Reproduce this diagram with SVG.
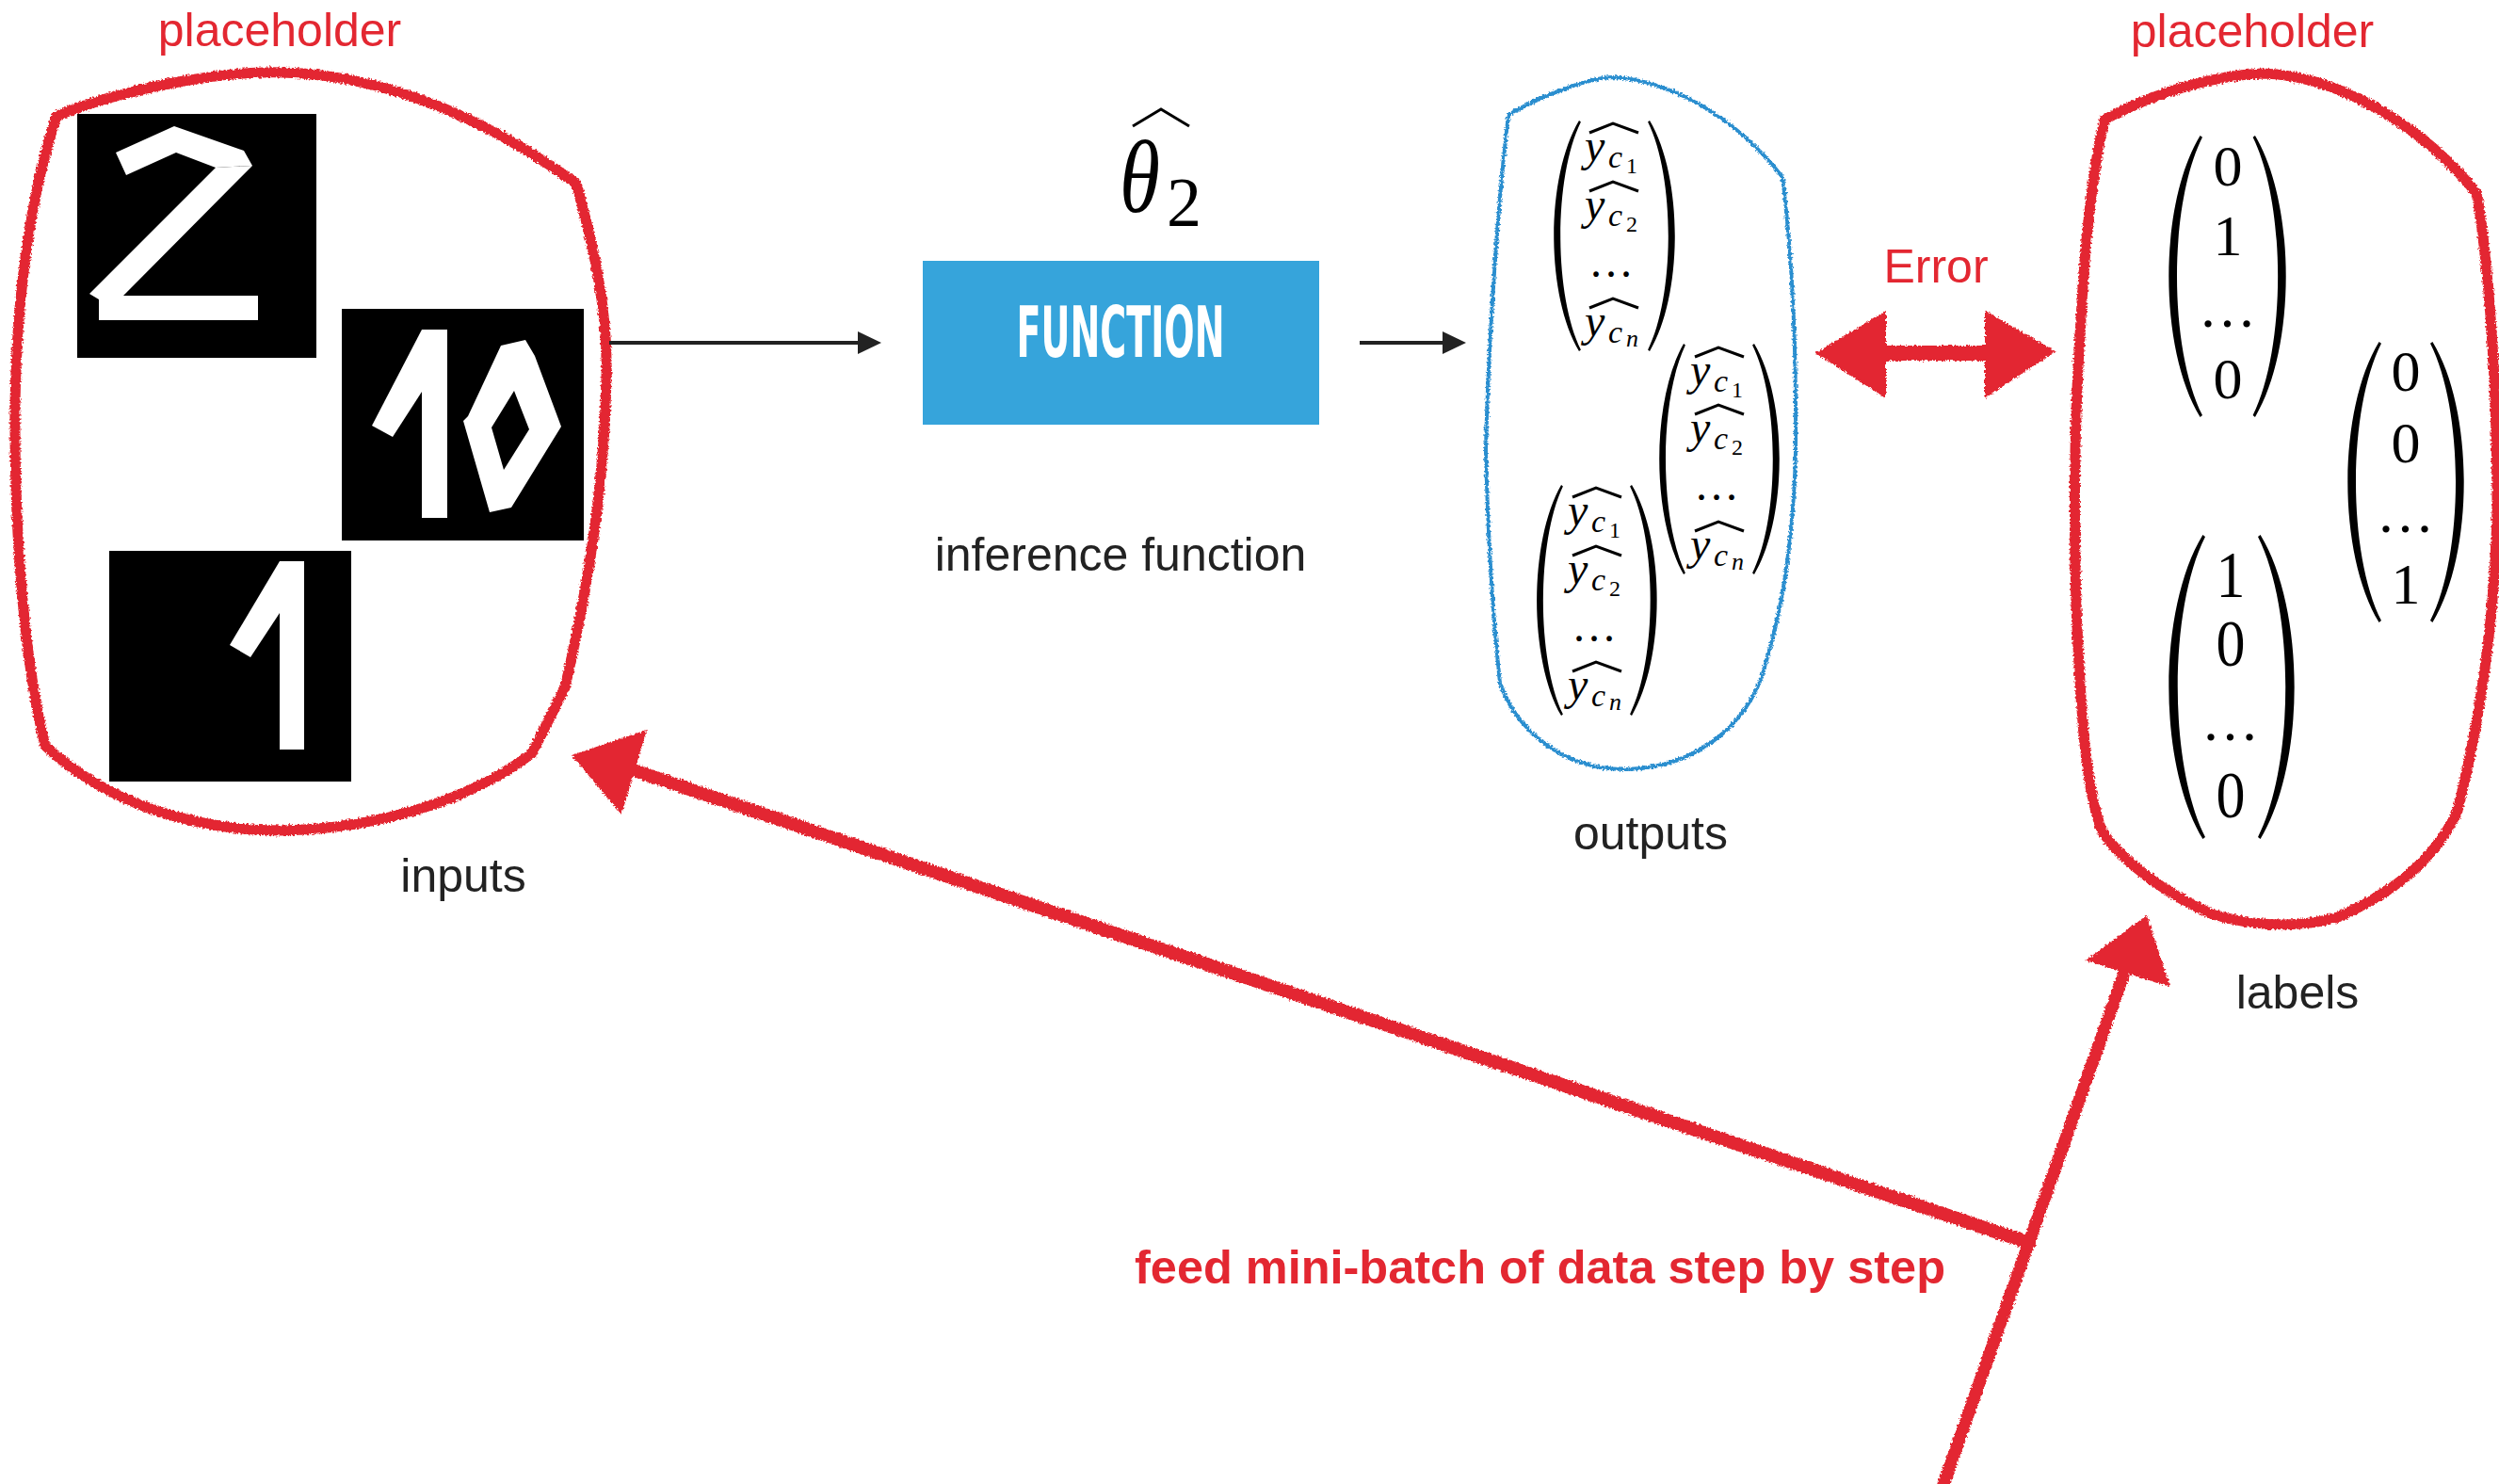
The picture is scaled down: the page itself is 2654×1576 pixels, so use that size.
<svg xmlns="http://www.w3.org/2000/svg" xmlns:xlink="http://www.w3.org/1999/xlink" width="2654" height="1576" viewBox="0 0 2654 1576">
  <defs>
    <style>
      .lbl { font-family: "Liberation Sans", Arial, sans-serif; font-size: 50px; fill: #222222; }
      .red { fill: #e32731; }
      .mi { font-family: "Liberation Serif", "DejaVu Serif", serif; font-style: italic; fill: #000; }
      .num { font-family: "Liberation Serif", "DejaVu Serif", serif; fill: #000; }
      .hat { fill: none; stroke: #000; stroke-width: 3; stroke-linejoin: miter; }
      .crayon { fill: none; stroke: #e32731; stroke-linecap: round; stroke-linejoin: round; }
      .digit { fill: #ffffff; }
    </style>
    <!-- rough crayon edge for the hand-drawn strokes -->
    <filter id="rough" filterUnits="userSpaceOnUse" x="0" y="0" width="2654" height="1576">
      <feTurbulence type="fractalNoise" baseFrequency="0.45" numOctaves="2" seed="7" result="noise"/>
      <feDisplacementMap in="SourceGraphic" in2="noise" scale="5" xChannelSelector="R" yChannelSelector="G"/>
    </filter>
    <!-- big left parenthesis, 28 wide and 245 tall -->
    <path id="paren" d="M28,0 C-9,60 -9,185 28,245 L30,243.5 C0,185 0,60 30,1.5 Z" fill="#000"/>
    <marker id="ah" markerUnits="userSpaceOnUse" markerWidth="26" markerHeight="26" refX="15" refY="12" orient="auto">
      <path d="M0,0 L25,12 L0,24 Z" fill="#222222"/>
    </marker>
  </defs>

  <rect width="2654" height="1576" fill="#ffffff"/>

  <!-- inputs placeholder -->
  <g id="inputs">
    <text class="lbl red" x="297" y="49" text-anchor="middle">placeholder</text>
    <rect x="82" y="121" width="254" height="259" fill="#000"/>
    <polygon class="digit" points="123,162 185,134 259,160 268,176 229,178 187,162 134,186"/>
    <polygon class="digit" points="268,176 229,178 95,312 105,318 105,340 274,340 274,314 131,314"/>
    <rect x="363" y="328" width="257" height="246" fill="#000"/>
    <rect class="digit" x="448" y="350" width="27" height="200"/>
    <polygon class="digit" points="448,350 395,452 417,464 448,416"/>
    <path class="digit" fill-rule="evenodd" d="M532,367 L558,361 L568,378 L596,453 L543,539 L520,544 L492,447 L497,442 Z M522,454 L546,415 L562,456 L535,499 Z"/>
    <rect x="116" y="585" width="257" height="245" fill="#000"/>
    <rect class="digit" x="297" y="596" width="26" height="200"/>
    <polygon class="digit" points="297,596 244,685 266,698 297,651"/>
    <path class="crayon" stroke-width="11" filter="url(#rough)" d="M60,123 C130,95 230,75 300,77 C420,80 530,135 612,195 C630,260 646,330 644,400 C642,500 630,600 600,730 L565,800 C500,850 400,880 300,882 C200,882 110,850 48,792 C25,700 15,560 16,430 C18,300 35,200 60,123 Z"/>
    <text class="lbl" x="492" y="947" text-anchor="middle">inputs</text>
  </g>

  <!-- inference function -->
  <g id="function">
    <path class="hat" stroke-width="4" d="M1203,134 L1233,116 L1263,134"/>
    <text class="mi" x="1189" y="225" font-size="110" textLength="43" lengthAdjust="spacingAndGlyphs">θ</text>
    <text class="num" x="1239" y="240" font-size="74">2</text>
    <rect x="980" y="277" width="421" height="174" fill="#36a4db"/>
    <text x="1190" y="379" text-anchor="middle" font-family="'Liberation Sans Narrow', 'DejaVu Sans Condensed', sans-serif" font-weight="bold" font-size="74" fill="#ffffff" textLength="221" lengthAdjust="spacingAndGlyphs">FUNCTION</text>
    <text class="lbl" x="1190" y="606" text-anchor="middle">inference function</text>
  </g>

  <!-- outputs -->
  <g id="outputs">
    <path fill="none" stroke="#2b8ecf" stroke-width="4" filter="url(#rough)" d="M1602,122 C1640,100 1690,82 1713,82 C1770,85 1840,120 1893,188 C1902,260 1908,360 1907,480 C1905,560 1895,640 1877,697 C1865,760 1810,815 1727,817 C1660,818 1610,775 1593,725 C1585,650 1580,560 1578,480 C1580,380 1590,220 1602,122 Z"/>

    <!-- vector 1 -->
    <use xlink:href="#paren" transform="translate(1650,128) scale(0.964,1)"/>
    <use xlink:href="#paren" transform="translate(1779,128) scale(-0.964,1)"/>
    <g transform="translate(1683,171)">
      <path class="hat" d="M5,-30 L30,-40 L57,-30"/>
      <text class="mi" x="0" y="0" font-size="48">y</text>
      <text class="mi" x="25" y="7" font-size="34">c</text>
      <text class="num" x="44" y="13" font-size="24">1</text>
    </g>
    <g transform="translate(1683,233)">
      <path class="hat" d="M5,-30 L30,-40 L57,-30"/>
      <text class="mi" x="0" y="0" font-size="48">y</text>
      <text class="mi" x="25" y="7" font-size="34">c</text>
      <text class="num" x="44" y="13" font-size="24">2</text>
    </g>
    <text class="num" x="1713" y="294" font-size="48" text-anchor="middle" letter-spacing="4">...</text>
    <g transform="translate(1683,357)">
      <path class="hat" d="M5,-30 L30,-40 L57,-30"/>
      <text class="mi" x="0" y="0" font-size="48">y</text>
      <text class="mi" x="25" y="7" font-size="34">c</text>
      <text class="mi" x="44" y="11" font-size="26">n</text>
    </g>

    <!-- vector 2 -->
    <use xlink:href="#paren" transform="translate(1762,365) scale(0.93,1)"/>
    <use xlink:href="#paren" transform="translate(1890,365) scale(-0.964,1)"/>
    <g transform="translate(1795,409)">
      <path class="hat" d="M5,-30 L30,-40 L57,-30"/>
      <text class="mi" x="0" y="0" font-size="48">y</text>
      <text class="mi" x="25" y="7" font-size="34">c</text>
      <text class="num" x="44" y="13" font-size="24">1</text>
    </g>
    <g transform="translate(1795,470)">
      <path class="hat" d="M5,-30 L30,-40 L57,-30"/>
      <text class="mi" x="0" y="0" font-size="48">y</text>
      <text class="mi" x="25" y="7" font-size="34">c</text>
      <text class="num" x="44" y="13" font-size="24">2</text>
    </g>
    <text class="num" x="1825" y="531" font-size="48" text-anchor="middle" letter-spacing="4">...</text>
    <g transform="translate(1795,594)">
      <path class="hat" d="M5,-30 L30,-40 L57,-30"/>
      <text class="mi" x="0" y="0" font-size="48">y</text>
      <text class="mi" x="25" y="7" font-size="34">c</text>
      <text class="mi" x="44" y="11" font-size="26">n</text>
    </g>

    <!-- vector 3 -->
    <use xlink:href="#paren" transform="translate(1632,515) scale(0.93,1)"/>
    <use xlink:href="#paren" transform="translate(1760,515) scale(-0.964,1)"/>
    <g transform="translate(1665,558)">
      <path class="hat" d="M5,-30 L30,-40 L57,-30"/>
      <text class="mi" x="0" y="0" font-size="48">y</text>
      <text class="mi" x="25" y="7" font-size="34">c</text>
      <text class="num" x="44" y="13" font-size="24">1</text>
    </g>
    <g transform="translate(1665,620)">
      <path class="hat" d="M5,-30 L30,-40 L57,-30"/>
      <text class="mi" x="0" y="0" font-size="48">y</text>
      <text class="mi" x="25" y="7" font-size="34">c</text>
      <text class="num" x="44" y="13" font-size="24">2</text>
    </g>
    <text class="num" x="1695" y="681" font-size="48" text-anchor="middle" letter-spacing="4">...</text>
    <g transform="translate(1665,743)">
      <path class="hat" d="M5,-30 L30,-40 L57,-30"/>
      <text class="mi" x="0" y="0" font-size="48">y</text>
      <text class="mi" x="25" y="7" font-size="34">c</text>
      <text class="mi" x="44" y="11" font-size="26">n</text>
    </g>

    <text class="lbl" x="1753" y="902" text-anchor="middle">outputs</text>
  </g>

  <!-- labels placeholder -->
  <g id="labels">
    <text class="lbl red" x="2392" y="50" text-anchor="middle">placeholder</text>
    <path class="crayon" stroke-width="11" filter="url(#rough)" d="M2235,127 C2290,98 2350,80 2403,78 C2480,80 2570,130 2630,205 L2632,215 C2645,300 2652,420 2652,540 C2650,650 2635,760 2610,861 C2590,905 2550,945 2483,974 C2450,984 2400,986 2350,971 C2300,950 2255,915 2233,884 C2215,840 2210,760 2205,644 C2202,540 2203,440 2210,340 C2215,240 2225,170 2235,127 Z"/>

    <!-- one-hot vector (0,1,...,0) -->
    <use xlink:href="#paren" transform="translate(2303,144) scale(1.2,1.22)"/>
    <use xlink:href="#paren" transform="translate(2428,144) scale(-1.18,1.22)"/>
    <text class="num" x="2366" y="197" font-size="62" text-anchor="middle">0</text>
    <text class="num" x="2366" y="271" font-size="62" text-anchor="middle">1</text>
    <text class="num" x="2368" y="347" font-size="62" text-anchor="middle" letter-spacing="5">...</text>
    <text class="num" x="2366" y="423" font-size="62" text-anchor="middle">0</text>

    <!-- one-hot vector (0,0,...,1) -->
    <use xlink:href="#paren" transform="translate(2493,363) scale(1.2,1.216)"/>
    <use xlink:href="#paren" transform="translate(2617,363) scale(-1.2,1.216)"/>
    <text class="num" x="2555" y="415" font-size="62" text-anchor="middle">0</text>
    <text class="num" x="2555" y="491" font-size="62" text-anchor="middle">0</text>
    <text class="num" x="2557" y="565" font-size="62" text-anchor="middle" letter-spacing="5">...</text>
    <text class="num" x="2555" y="641" font-size="62" text-anchor="middle">1</text>

    <!-- one-hot vector (1,0,...,0) -->
    <use xlink:href="#paren" transform="translate(2303,568) scale(1.3,1.318)"/>
    <use xlink:href="#paren" transform="translate(2437,568) scale(-1.3,1.318)"/>
    <text class="num" transform="translate(2369,634) scale(1,1.12)" x="0" y="0" font-size="62" text-anchor="middle">1</text>
    <text class="num" transform="translate(2369,707) scale(1,1.12)" x="0" y="0" font-size="62" text-anchor="middle">0</text>
    <text class="num" x="2371" y="786" font-size="62" text-anchor="middle" letter-spacing="5">...</text>
    <text class="num" transform="translate(2369,868) scale(1,1.12)" x="0" y="0" font-size="62" text-anchor="middle">0</text>

    <text class="lbl" x="2440" y="1071" text-anchor="middle">labels</text>
  </g>

  <!-- connectors -->
  <g id="connectors">
    <line x1="647" y1="364" x2="926" y2="364" stroke="#222222" stroke-width="4" marker-end="url(#ah)"/>
    <line x1="1444" y1="364" x2="1547" y2="364" stroke="#222222" stroke-width="4" marker-end="url(#ah)"/>

    <g filter="url(#rough)">
      <!-- error between outputs and labels -->
      <path class="red" d="M1928,375 L2003,330 L2003,367 L2108,367 L2108,330 L2183,373 L2108,423 L2108,383 L2003,383 L2003,423 Z"/>
      <!-- mini-batch feed to labels -->
      <line class="crayon" x1="2062" y1="1582" x2="2255" y2="1036" stroke-width="13"/>
      <polygon class="red" points="2280,972 2215,1020 2305,1048"/>
      <!-- mini-batch feed to inputs -->
      <line class="crayon" x1="2155" y1="1320" x2="676" y2="819" stroke-width="14"/>
      <polygon class="red" points="607,802 687,775 660,865"/>
    </g>
    <text class="red" x="2056" y="300" text-anchor="middle" font-family="'Liberation Sans', Arial, sans-serif" font-size="50">Error</text>
    <text class="red" x="1205" y="1363" font-family="'Liberation Sans', Arial, sans-serif" font-weight="bold" font-size="50" textLength="861" lengthAdjust="spacingAndGlyphs">feed mini-batch of data step by step</text>
  </g>
</svg>
